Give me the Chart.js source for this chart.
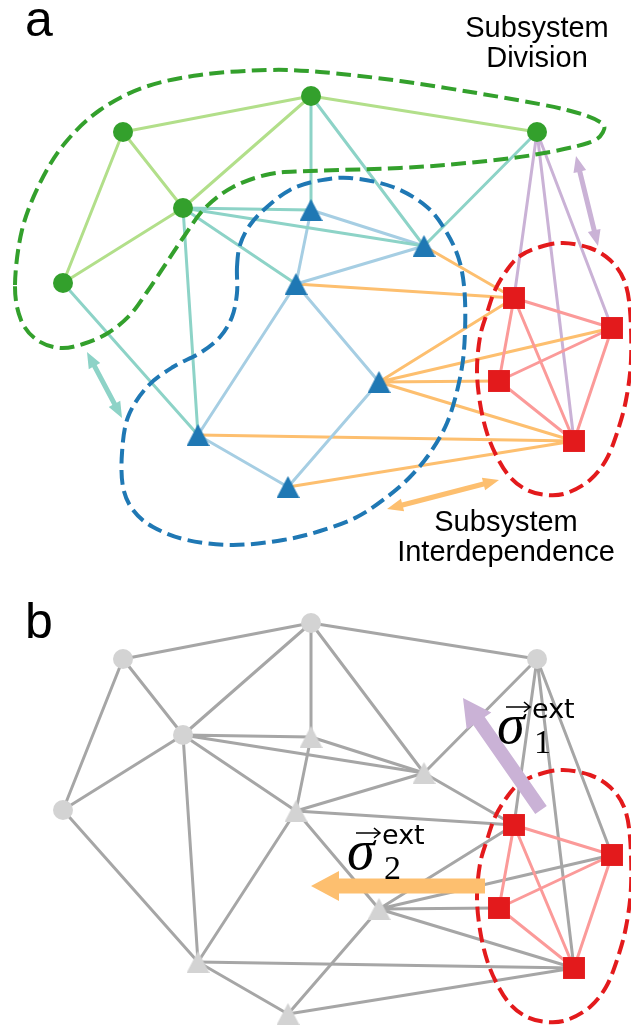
<!DOCTYPE html>
<html>
<head>
<meta charset="utf-8">
<script src="https://cdn.jsdelivr.net/npm/chart.js@4.4.1/dist/chart.umd.min.js"></script>
<style>
  html, body { margin: 0; padding: 0; background: #fff; }
</style>
</head>
<body>
<canvas id="net" width="631" height="1027"></canvas>
<script>
// node positions for panel a; panel b reuses them, shifted down
const greenNodes = [[123,132],[311,96],[537,132],[183,208],[63,283]];
const blueNodes  = [[311,210],[424,246],[296,284],[379,382],[198,435],[288,487]];
const redNodes   = [[514,298],[612,328],[499,381],[574,441]];
const panelBShift = 527;

// edges as index pairs (first list, second list)
const greenEdges     = [[0,1],[0,3],[0,4],[1,3],[1,2],[3,4]];
const greenBlueEdges = [[1,0],[1,1],[2,1],[3,0],[3,1],[3,2],[3,4],[4,4]];
const blueEdges      = [[0,1],[0,2],[2,1],[2,3],[2,4],[4,5],[5,3]];
const blueRedEdges   = [[2,0],[1,0],[3,0],[3,1],[3,2],[3,3],[4,3],[5,3]];
const redEdges       = [[0,1],[0,2],[0,3],[1,2],[1,3],[2,3]];
const greenRedEdges  = [[2,0],[2,1],[2,3]];

// subsystem outlines (panel a)
const greenHull = [[15,285],[22,230],[40,183],[65,143],[100,110],[145,87],[200,75],[267,70],[320,72],[400,81],[500,97],[567,110],[600,122],[603,132],[588,143],[533,155],[467,163],[400,168],[310,171],[270,174],[233,187],[205,208],[185,235],[167,262],[147,292],[130,315],[108,333],[83,344],[60,348],[37,340],[21,320]];
const blueHull = [[237,267],[240,245],[250,225],[267,207],[290,190],[317,181],[350,178],[393,187],[427,207],[447,233],[460,263],[465,300],[464,350],[458,387],[447,423],[430,453],[410,477],[387,497],[357,517],[320,531],[283,540],[233,545],[187,540],[153,527],[133,510],[123,487],[122,453],[128,417],[147,387],[173,367],[200,353],[220,337],[232,317],[237,293]];
const redHull = [[540,247],[563,243],[590,248],[610,260],[624,280],[630,310],[631,360],[626,400],[617,433],[606,460],[590,480],[567,493],[547,495],[527,490],[510,477],[497,457],[487,433],[480,403],[477,370],[480,337],[487,313],[495,290],[507,270],[520,256]];

function edgeData(edges, A, B, dy) {
  const out = [];
  edges.forEach(([i, j]) => {
    out.push({x: A[i][0], y: A[i][1] + dy}, {x: B[j][0], y: B[j][1] + dy}, {x: NaN, y: NaN});
  });
  return out;
}

function edgeSet(edges, A, B, dy, color) {
  return {
    data: edgeData(edges, A, B, dy),
    showLine: true, spanGaps: false,
    borderColor: color, borderWidth: 3,
    pointRadius: 0, order: 2
  };
}

function triangleMarker(color) {
  const c = document.createElement('canvas');
  c.width = 23; c.height = 22;
  const g = c.getContext('2d');
  g.fillStyle = color;
  g.beginPath();
  g.moveTo(11.5, 0); g.lineTo(23, 22); g.lineTo(0, 22);
  g.closePath(); g.fill();
  return c;
}

function nodeSet(nodes, dy, style, color, r) {
  return {
    data: nodes.map(([x, y]) => ({x: x, y: y + dy})),
    showLine: false,
    pointStyle: style, pointRadius: r,
    backgroundColor: color, borderWidth: 0,
    order: 1
  };
}

const datasets = [
  // panel a
  edgeSet(greenEdges, greenNodes, greenNodes, 0, '#b2df8a'),
  edgeSet(greenBlueEdges, greenNodes, blueNodes, 0, '#8dd3c7'),
  edgeSet(blueEdges, blueNodes, blueNodes, 0, '#a6cee3'),
  edgeSet(blueRedEdges, blueNodes, redNodes, 0, '#fdbf6f'),
  edgeSet(greenRedEdges, greenNodes, redNodes, 0, '#cab2d6'),
  edgeSet(redEdges, redNodes, redNodes, 0, '#fb9a99'),
  nodeSet(greenNodes, 0, 'circle', '#33a02c', 10),
  nodeSet(blueNodes, 0, triangleMarker('#1f78b4'), '#1f78b4', 11),
  nodeSet(redNodes, 0, 'rect', '#e31a1c', 15.5),
  // panel b
  edgeSet(greenEdges, greenNodes, greenNodes, panelBShift, '#a6a6a6'),
  edgeSet(greenBlueEdges, greenNodes, blueNodes, panelBShift, '#a6a6a6'),
  edgeSet(blueEdges, blueNodes, blueNodes, panelBShift, '#a6a6a6'),
  edgeSet(blueRedEdges, blueNodes, redNodes, panelBShift, '#a6a6a6'),
  edgeSet(greenRedEdges, greenNodes, redNodes, panelBShift, '#a6a6a6'),
  edgeSet(redEdges, redNodes, redNodes, panelBShift, '#fb9a99'),
  nodeSet(greenNodes, panelBShift, 'circle', '#d3d3d3', 10),
  nodeSet(blueNodes, panelBShift, triangleMarker('#d3d3d3'), '#d3d3d3', 11),
  nodeSet(redNodes, panelBShift, 'rect', '#e31a1c', 15.5)
];
// red-red edges sit above the other edges
datasets[5].order = 1.5;
datasets[14].order = 1.5;

function closedSpline(ctx, pts) {
  const n = pts.length;
  ctx.beginPath();
  ctx.moveTo(pts[0][0], pts[0][1]);
  for (let i = 0; i < n; i++) {
    const p0 = pts[(i - 1 + n) % n], p1 = pts[i], p2 = pts[(i + 1) % n], p3 = pts[(i + 2) % n];
    ctx.bezierCurveTo(
      p1[0] + (p2[0] - p0[0]) / 6, p1[1] + (p2[1] - p0[1]) / 6,
      p2[0] - (p3[0] - p1[0]) / 6, p2[1] - (p3[1] - p1[1]) / 6,
      p2[0], p2[1]);
  }
  ctx.closePath();
}

function arrowShape(ctx, a, b, shaft, headW, headL, both) {
  const dx = b[0] - a[0], dy = b[1] - a[1], len = Math.hypot(dx, dy);
  const ux = dx / len, uy = dy / len, nx = -uy, ny = ux;
  const P = (s, t) => [a[0] + ux * s + nx * t, a[1] + uy * s + ny * t];
  const hs = shaft / 2, hw = headW / 2;
  let pts;
  if (both) {
    pts = [P(0,0), P(headL,hw), P(headL,hs), P(len-headL,hs), P(len-headL,hw), P(len,0),
           P(len-headL,-hw), P(len-headL,-hs), P(headL,-hs), P(headL,-hw)];
  } else {
    pts = [P(0,hs), P(len-headL,hs), P(len-headL,hw), P(len,0), P(len-headL,-hw), P(len-headL,-hs), P(0,-hs)];
  }
  ctx.beginPath();
  pts.forEach((p, i) => i ? ctx.lineTo(p[0], p[1]) : ctx.moveTo(p[0], p[1]));
  ctx.closePath();
  ctx.fill();
}

function sigmaLabel(ctx, x, y, sub) {
  // x,y: left / baseline of the sigma
  ctx.fillStyle = '#000';
  ctx.textAlign = 'left';
  ctx.font = 'italic 56px "Liberation Serif"';
  ctx.fillText('\u03c3', x - 2, y + 1);
  ctx.strokeStyle = '#000';
  ctx.lineWidth = 1.6;
  ctx.beginPath();
  ctx.moveTo(x + 7, y - 35); ctx.lineTo(x + 31, y - 35);
  ctx.moveTo(x + 25, y - 40); ctx.lineTo(x + 31, y - 35); ctx.lineTo(x + 25, y - 30);
  ctx.stroke();
  ctx.font = '27px "DejaVu Sans"';
  ctx.fillText('ext', x + 33, y - 24);
  ctx.font = '34px "Liberation Serif"';
  ctx.fillText(sub, x + 35, y + 11);
}

const overlay = {
  id: 'overlay',
  afterDatasetsDraw(chart) {
    const ctx = chart.ctx, xs = chart.scales.x, ys = chart.scales.y;
    const px = (p, dy) => [xs.getPixelForValue(p[0]), ys.getPixelForValue(p[1] + (dy || 0))];
    ctx.save();

    // subsystem outlines
    ctx.lineWidth = 4;
    ctx.setLineDash([14.8, 6.4]);
    [[greenHull, '#33a02c', 0], [blueHull, '#1f78b4', 0], [redHull, '#e31a1c', 0], [redHull, '#e31a1c', panelBShift]]
      .forEach(([hull, color, dy]) => {
        ctx.strokeStyle = color;
        closedSpline(ctx, hull.map(p => px(p, dy)));
        ctx.stroke();
      });
    ctx.setLineDash([]);

    // interdependence arrows (panel a)
    ctx.fillStyle = '#8dd3c7';
    arrowShape(ctx, px([87,352]), px([122,418]), 5, 13, 16, true);
    ctx.fillStyle = '#cab2d6';
    arrowShape(ctx, px([576,156]), px([598,246]), 5, 13, 16, true);
    ctx.fillStyle = '#fdbf6f';
    arrowShape(ctx, px([387,509]), px([499,480]), 5, 13, 16, true);

    // external fields (panel b)
    ctx.fillStyle = '#cab2d6';
    arrowShape(ctx, px([541,810]), px([463,698]), 14, 30, 28, false);
    ctx.fillStyle = '#fdbf6f';
    arrowShape(ctx, px([485,886]), px([311,886]), 15, 30, 28, false);

    // text
    ctx.fillStyle = '#000';
    ctx.font = '50px "Liberation Sans"';
    ctx.textAlign = 'left';
    ctx.fillText('a', 25, 36);
    ctx.fillText('b', 25, 638);

    ctx.font = '29px "Liberation Sans"';
    ctx.textAlign = 'center';
    ctx.fillText('Subsystem', 537, 37);
    ctx.fillText('Division', 537, 67);
    ctx.fillText('Subsystem', 506, 531);
    ctx.fillText('Interdependence', 506, 561);

    sigmaLabel(ctx, 499, 742, '1');
    sigmaLabel(ctx, 349, 868, '2');

    ctx.restore();
  }
};

new Chart(document.getElementById('net'), {
  type: 'scatter',
  data: { datasets: datasets },
  options: {
    responsive: false,
    animation: false,
    events: [],
    layout: { padding: 0, autoPadding: false },
    plugins: { legend: { display: false }, tooltip: { enabled: false } },
    scales: {
      x: { type: 'linear', min: 0, max: 631, display: false },
      y: { type: 'linear', min: 0, max: 1027, reverse: true, display: false }
    }
  },
  plugins: [overlay]
});
</script>
</body>
</html>
